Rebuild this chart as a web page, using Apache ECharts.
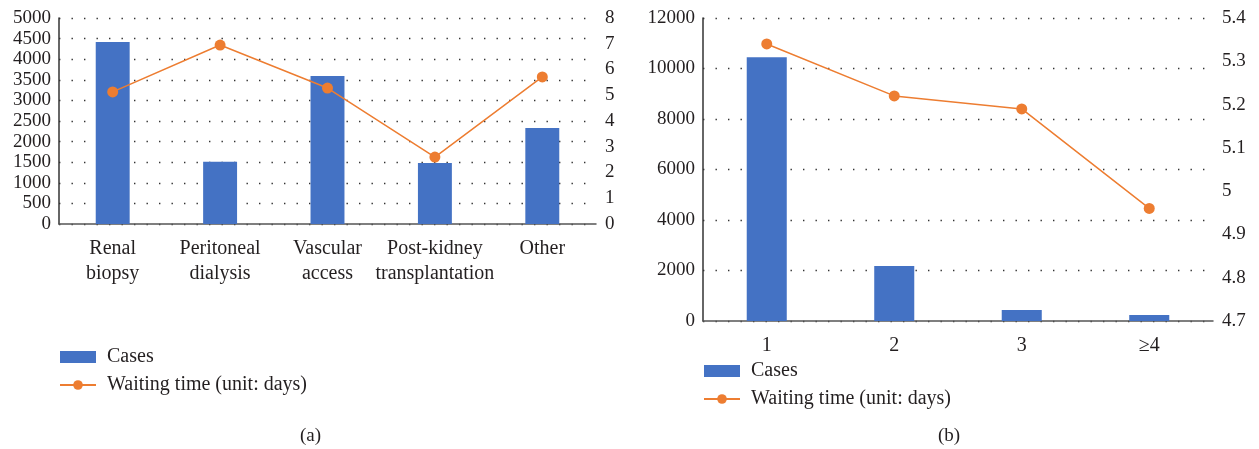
<!DOCTYPE html>
<html>
<head>
<meta charset="utf-8">
<script src="https://cdn.jsdelivr.net/npm/echarts@6/dist/echarts.min.js"></script>
<style>
  html, body { margin: 0; padding: 0; background: #fff; }
  #chart { width: 1259px; height: 449px; }
</style>
</head>
<body>
<div id="chart"></div>
<script>
// panel (a): by procedure type
var procCategories = ['Renal biopsy', 'Peritoneal dialysis', 'Vascular access', 'Post-kidney transplantation', 'Other'];
var procCases = [4420, 1510, 3590, 1480, 2330];
var procWaiting = [5.13, 6.95, 5.28, 2.6, 5.71];

// panel (b): by number of ...
var countCategories = ['1', '2', '3', '≥4'];
var countCases = [10450, 2180, 440, 240];
var countWaiting = [5.34, 5.22, 5.19, 4.96];

var seriesNames = ['Cases', 'Waiting time (unit: days)'];

var FONT = '"Liberation Serif", "DejaVu Serif", serif';
var TXT = '#231f20';
var BLUE = '#4472c4';
var ORANGE = '#ed7d31';

var myChart = echarts.init(document.getElementById('chart'));

function plain(v) { return String(v); }

function leftAxis(grid, max, interval) {
    return {
        type: 'value', gridIndex: grid, min: 0, max: max, interval: interval,
        axisLine: { show: true, lineStyle: { color: '#333', width: 1.5 } },
        axisTick: { show: false },
        axisLabel: { color: TXT, fontFamily: FONT, fontSize: 19, margin: 8, formatter: plain },
        splitLine: { show: true, lineStyle: { color: '#333', width: 1.4, type: [1.4, 11.1] } }
    };
}
function rightAxis(grid, min, max, interval) {
    return {
        type: 'value', gridIndex: grid, position: 'right', min: min, max: max, interval: interval,
        axisLine: { show: false },
        axisTick: { show: false },
        axisLabel: { color: TXT, fontFamily: FONT, fontSize: 19, margin: 9 },
        splitLine: { show: false }
    };
}
function catAxis(grid, cats, fmt) {
    return {
        type: 'category', gridIndex: grid, data: cats,
        axisLine: { lineStyle: { color: '#555', width: 1.5 } },
        axisTick: { show: false },
        axisLabel: { color: TXT, fontFamily: FONT, fontSize: 20, lineHeight: 25, margin: 12, interval: 0, formatter: fmt }
    };
}
function legendAt(left, top) {
    return {
        data: [{ name: seriesNames[0], icon: 'rect' }, { name: seriesNames[1] }],
        orient: 'vertical', left: left, top: top,
        itemWidth: 36, itemHeight: 12, itemGap: 8,
        textStyle: { color: TXT, fontFamily: FONT, fontSize: 20, padding: [0, 0, 0, 6] }
    };
}

var option = {
    animation: false,
    grid: [
        { left: 59, top: 18, width: 537, height: 206 },
        { left: 703, top: 18, width: 510, height: 303 }
    ],
    xAxis: [
        catAxis(0, procCategories, function (v) { return v.replace(' ', '\n'); }),
        catAxis(1, countCategories)
    ],
    yAxis: [
        leftAxis(0, 5000, 500),
        rightAxis(0, 0, 8, 1),
        leftAxis(1, 12000, 2000),
        rightAxis(1, 4.7, 5.4, 0.1)
    ],
    legend: [legendAt(54, 342), legendAt(698, 356)],
    title: [
        { text: '(a)', left: 300, top: 427, textStyle: { color: TXT, fontFamily: FONT, fontSize: 19, fontWeight: 'normal' }, padding: 0 },
        { text: '(b)', left: 938, top: 427, textStyle: { color: TXT, fontFamily: FONT, fontSize: 19, fontWeight: 'normal' }, padding: 0 }
    ],
    series: [
        { name: seriesNames[0], type: 'bar', xAxisIndex: 0, yAxisIndex: 0, data: procCases, barWidth: '31.6%', itemStyle: { color: BLUE } },
        { name: seriesNames[1], type: 'line', xAxisIndex: 0, yAxisIndex: 1, data: procWaiting, symbol: 'circle', symbolSize: 11,
          itemStyle: { color: ORANGE }, lineStyle: { color: ORANGE, width: 1.5 } },
        { name: seriesNames[0], type: 'bar', xAxisIndex: 1, yAxisIndex: 2, data: countCases, barWidth: '31.4%', itemStyle: { color: BLUE } },
        { name: seriesNames[1], type: 'line', xAxisIndex: 1, yAxisIndex: 3, data: countWaiting, symbol: 'circle', symbolSize: 11,
          itemStyle: { color: ORANGE }, lineStyle: { color: ORANGE, width: 1.5 } }
    ]
};

myChart.setOption(option);
</script>
</body>
</html>
